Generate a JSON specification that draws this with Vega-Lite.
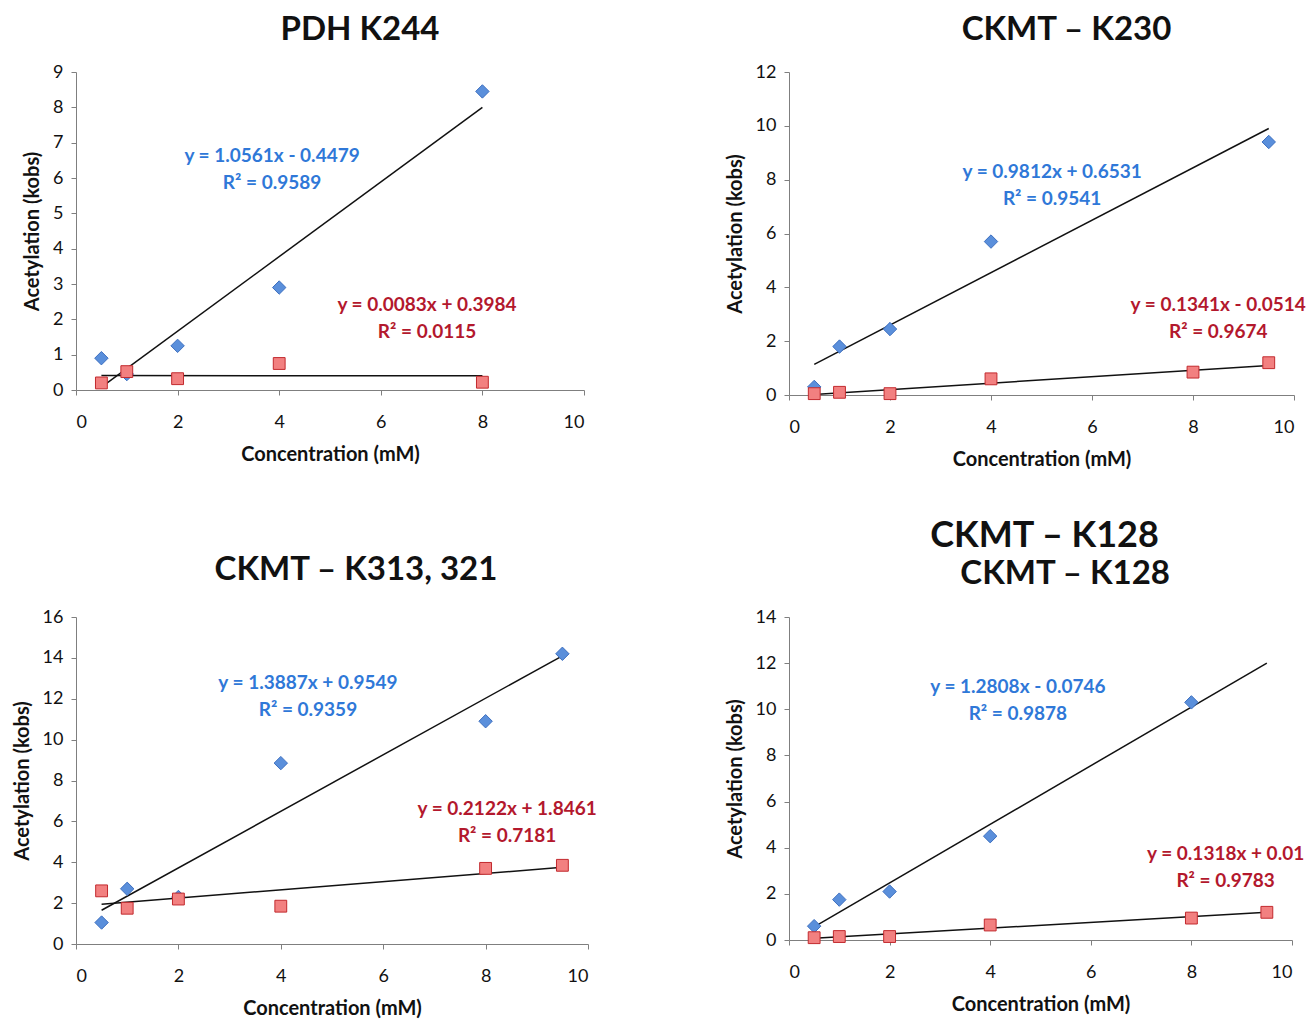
{
  "$schema": "https://vega.github.io/schema/vega-lite/v6.json",
  "padding": {"left": 12, "top": 14, "right": 0, "bottom": 5},
  "background": "white",
  "columns": 2,
  "spacing": {"row": 49, "column": 128},
  "concat": [
    {
      "title": {"text": "PDH K244", "dx": 30},
      "width": 508, "height": 318,
      "data": {"values": [
        {"kind": "pt", "series": "A", "x": 0.5, "y": 0.9},
        {"kind": "pt", "series": "A", "x": 1, "y": 0.45},
        {"kind": "pt", "series": "A", "x": 2, "y": 1.25},
        {"kind": "pt", "series": "A", "x": 4, "y": 2.9},
        {"kind": "pt", "series": "A", "x": 8, "y": 8.45},
        {"kind": "pt", "series": "B", "x": 0.5, "y": 0.2},
        {"kind": "pt", "series": "B", "x": 1, "y": 0.52},
        {"kind": "pt", "series": "B", "x": 2, "y": 0.32},
        {"kind": "pt", "series": "B", "x": 4, "y": 0.75},
        {"kind": "pt", "series": "B", "x": 8, "y": 0.22},
        {"kind": "fit", "series": "A", "x": 0.5, "y": 0.08},
        {"kind": "fit", "series": "A", "x": 8, "y": 8.0},
        {"kind": "fit", "series": "B", "x": 0.5, "y": 0.41},
        {"kind": "fit", "series": "B", "x": 8, "y": 0.4},
        {"kind": "eq", "series": "A", "x": 3.86, "y": 6.63, "label": "y = 1.0561x - 0.4479"},
        {"kind": "eq", "series": "A", "x": 3.86, "y": 5.86, "label": "R² = 0.9589"},
        {"kind": "eq", "series": "B", "x": 6.91, "y": 2.41, "label": "y = 0.0083x + 0.3984"},
        {"kind": "eq", "series": "B", "x": 6.91, "y": 1.64, "label": "R² = 0.0115"}
      ]},
      "encoding": {
        "x": {"field": "x", "type": "quantitative", "scale": {"domain": [0, 10]}, "axis": {"values": [0, 2, 4, 6, 8, 10], "title": "Concentration (mM)"}},
        "y": {"field": "y", "type": "quantitative", "scale": {"domain": [0, 9]}, "axis": {"values": [0, 1, 2, 3, 4, 5, 6, 7, 8, 9], "title": "Acetylation (kobs)"}}
      },
      "layer": [
        {"transform": [{"filter": "datum.kind === 'fit'"}], "mark": {"type": "line", "color": "#111111", "strokeWidth": 1.5}, "encoding": {"detail": {"field": "series"}}},
        {"transform": [{"filter": "datum.kind === 'pt'"}], "mark": {"type": "point", "filled": true, "opacity": 1, "strokeWidth": 1},
         "encoding": {
           "shape": {"field": "series", "scale": {"domain": ["A", "B"], "range": ["diamond", "square"]}, "legend": null},
           "size": {"field": "series", "type": "nominal", "scale": {"domain": ["A", "B"], "range": [180, 140]}, "legend": null},
           "fill": {"field": "series", "scale": {"domain": ["A", "B"], "range": ["#5A8FDB", "#F28080"]}, "legend": null},
           "stroke": {"field": "series", "scale": {"domain": ["A", "B"], "range": ["#3E70C0", "#C22A2E"]}, "legend": null}
         }},
        {"transform": [{"filter": "datum.kind === 'eq'"}], "mark": {"type": "text", "fontSize": 19, "fontWeight": "bold"},
         "encoding": {
           "text": {"field": "label"},
           "color": {"field": "series", "scale": {"domain": ["A", "B"], "range": ["#2F78D8", "#B3182D"]}, "legend": null}
         }}
      ]
    },
    {
      "title": {"text": "CKMT – K230", "dx": 25},
      "width": 505, "height": 323,
      "data": {"values": [
        {"kind": "pt", "series": "A", "x": 0.5, "y": 0.3},
        {"kind": "pt", "series": "A", "x": 1, "y": 1.8},
        {"kind": "pt", "series": "A", "x": 2, "y": 2.45},
        {"kind": "pt", "series": "A", "x": 4, "y": 5.7},
        {"kind": "pt", "series": "A", "x": 9.5, "y": 9.4},
        {"kind": "pt", "series": "B", "x": 0.5, "y": 0.05},
        {"kind": "pt", "series": "B", "x": 1, "y": 0.1},
        {"kind": "pt", "series": "B", "x": 2, "y": 0.05},
        {"kind": "pt", "series": "B", "x": 4, "y": 0.6},
        {"kind": "pt", "series": "B", "x": 8, "y": 0.85},
        {"kind": "pt", "series": "B", "x": 9.5, "y": 1.2},
        {"kind": "fit", "series": "A", "x": 0.5, "y": 1.14},
        {"kind": "fit", "series": "A", "x": 9.5, "y": 9.9},
        {"kind": "fit", "series": "B", "x": 0.5, "y": 0.02},
        {"kind": "fit", "series": "B", "x": 9.5, "y": 1.1},
        {"kind": "eq", "series": "A", "x": 5.21, "y": 8.29, "label": "y = 0.9812x + 0.6531"},
        {"kind": "eq", "series": "A", "x": 5.21, "y": 7.29, "label": "R² = 0.9541"},
        {"kind": "eq", "series": "B", "x": 8.5, "y": 3.35, "label": "y = 0.1341x - 0.0514"},
        {"kind": "eq", "series": "B", "x": 8.5, "y": 2.34, "label": "R² = 0.9674"}
      ]},
      "encoding": {
        "x": {"field": "x", "type": "quantitative", "scale": {"domain": [0, 10]}, "axis": {"values": [0, 2, 4, 6, 8, 10], "title": "Concentration (mM)"}},
        "y": {"field": "y", "type": "quantitative", "scale": {"domain": [0, 12]}, "axis": {"values": [0, 2, 4, 6, 8, 10, 12], "title": "Acetylation (kobs)"}}
      },
      "layer": [
        {"transform": [{"filter": "datum.kind === 'fit'"}], "mark": {"type": "line", "color": "#111111", "strokeWidth": 1.5}, "encoding": {"detail": {"field": "series"}}},
        {"transform": [{"filter": "datum.kind === 'pt'"}], "mark": {"type": "point", "filled": true, "opacity": 1, "strokeWidth": 1},
         "encoding": {
           "shape": {"field": "series", "scale": {"domain": ["A", "B"], "range": ["diamond", "square"]}, "legend": null},
           "size": {"field": "series", "type": "nominal", "scale": {"domain": ["A", "B"], "range": [180, 140]}, "legend": null},
           "fill": {"field": "series", "scale": {"domain": ["A", "B"], "range": ["#5A8FDB", "#F28080"]}, "legend": null},
           "stroke": {"field": "series", "scale": {"domain": ["A", "B"], "range": ["#3E70C0", "#C22A2E"]}, "legend": null}
         }},
        {"transform": [{"filter": "datum.kind === 'eq'"}], "mark": {"type": "text", "fontSize": 19, "fontWeight": "bold"},
         "encoding": {
           "text": {"field": "label"},
           "color": {"field": "series", "scale": {"domain": ["A", "B"], "range": ["#2F78D8", "#B3182D"]}, "legend": null}
         }}
      ]
    },
    {
      "title": {"text": "CKMT – K313, 321", "dx": 24, "offset": 21},
      "width": 512, "height": 327,
      "data": {"values": [
        {"kind": "pt", "series": "A", "x": 0.5, "y": 1.05},
        {"kind": "pt", "series": "A", "x": 1, "y": 2.7},
        {"kind": "pt", "series": "A", "x": 2, "y": 2.3},
        {"kind": "pt", "series": "A", "x": 4, "y": 8.85},
        {"kind": "pt", "series": "A", "x": 8, "y": 10.9},
        {"kind": "pt", "series": "A", "x": 9.5, "y": 14.2},
        {"kind": "pt", "series": "B", "x": 0.5, "y": 2.6},
        {"kind": "pt", "series": "B", "x": 1, "y": 1.75},
        {"kind": "pt", "series": "B", "x": 2, "y": 2.2},
        {"kind": "pt", "series": "B", "x": 4, "y": 1.85},
        {"kind": "pt", "series": "B", "x": 8, "y": 3.7},
        {"kind": "pt", "series": "B", "x": 9.5, "y": 3.85},
        {"kind": "fit", "series": "A", "x": 0.5, "y": 1.65},
        {"kind": "fit", "series": "A", "x": 9.5, "y": 14.1},
        {"kind": "fit", "series": "B", "x": 0.5, "y": 1.95},
        {"kind": "fit", "series": "B", "x": 9.5, "y": 3.75},
        {"kind": "eq", "series": "A", "x": 4.53, "y": 12.77, "label": "y = 1.3887x + 0.9549"},
        {"kind": "eq", "series": "A", "x": 4.53, "y": 11.45, "label": "R² = 0.9359"},
        {"kind": "eq", "series": "B", "x": 8.42, "y": 6.6, "label": "y = 0.2122x + 1.8461"},
        {"kind": "eq", "series": "B", "x": 8.42, "y": 5.28, "label": "R² = 0.7181"}
      ]},
      "encoding": {
        "x": {"field": "x", "type": "quantitative", "scale": {"domain": [0, 10]}, "axis": {"values": [0, 2, 4, 6, 8, 10], "title": "Concentration (mM)"}},
        "y": {"field": "y", "type": "quantitative", "scale": {"domain": [0, 16]}, "axis": {"values": [0, 2, 4, 6, 8, 10, 12, 14, 16], "title": "Acetylation (kobs)"}}
      },
      "layer": [
        {"transform": [{"filter": "datum.kind === 'fit'"}], "mark": {"type": "line", "color": "#111111", "strokeWidth": 1.5}, "encoding": {"detail": {"field": "series"}}},
        {"transform": [{"filter": "datum.kind === 'pt'"}], "mark": {"type": "point", "filled": true, "opacity": 1, "strokeWidth": 1},
         "encoding": {
           "shape": {"field": "series", "scale": {"domain": ["A", "B"], "range": ["diamond", "square"]}, "legend": null},
           "size": {"field": "series", "type": "nominal", "scale": {"domain": ["A", "B"], "range": [180, 140]}, "legend": null},
           "fill": {"field": "series", "scale": {"domain": ["A", "B"], "range": ["#5A8FDB", "#F28080"]}, "legend": null},
           "stroke": {"field": "series", "scale": {"domain": ["A", "B"], "range": ["#3E70C0", "#C22A2E"]}, "legend": null}
         }},
        {"transform": [{"filter": "datum.kind === 'eq'"}], "mark": {"type": "text", "fontSize": 19, "fontWeight": "bold"},
         "encoding": {
           "text": {"field": "label"},
           "color": {"field": "series", "scale": {"domain": ["A", "B"], "range": ["#2F78D8", "#B3182D"]}, "legend": null}
         }}
      ]
    },
    {
      "title": {"text": "CKMT – K128", "subtitle": "\u200b\u2003\u2002CKMT – K128", "dx": 4, "fontSize": 36, "subtitleFontSize": 33, "subtitleFontWeight": "bold", "subtitleColor": "#111111", "subtitlePadding": 3},
      "width": 503, "height": 323,
      "data": {"values": [
        {"kind": "pt", "series": "A", "x": 0.5, "y": 0.6},
        {"kind": "pt", "series": "A", "x": 1, "y": 1.75},
        {"kind": "pt", "series": "A", "x": 2, "y": 2.1},
        {"kind": "pt", "series": "A", "x": 4, "y": 4.5},
        {"kind": "pt", "series": "A", "x": 8, "y": 10.3},
        {"kind": "pt", "series": "B", "x": 0.5, "y": 0.1},
        {"kind": "pt", "series": "B", "x": 1, "y": 0.15},
        {"kind": "pt", "series": "B", "x": 2, "y": 0.15},
        {"kind": "pt", "series": "B", "x": 4, "y": 0.65},
        {"kind": "pt", "series": "B", "x": 8, "y": 0.95},
        {"kind": "pt", "series": "B", "x": 9.5, "y": 1.2},
        {"kind": "fit", "series": "A", "x": 0.5, "y": 0.57},
        {"kind": "fit", "series": "A", "x": 9.5, "y": 12.0},
        {"kind": "fit", "series": "B", "x": 0.5, "y": 0.08},
        {"kind": "fit", "series": "B", "x": 9.5, "y": 1.2},
        {"kind": "eq", "series": "A", "x": 4.55, "y": 10.97, "label": "y = 1.2808x - 0.0746"},
        {"kind": "eq", "series": "A", "x": 4.55, "y": 9.8, "label": "R² = 0.9878"},
        {"kind": "eq", "series": "B", "x": 8.68, "y": 3.73, "label": "y = 0.1318x + 0.01"},
        {"kind": "eq", "series": "B", "x": 8.68, "y": 2.56, "label": "R² = 0.9783"}
      ]},
      "encoding": {
        "x": {"field": "x", "type": "quantitative", "scale": {"domain": [0, 10]}, "axis": {"values": [0, 2, 4, 6, 8, 10], "title": "Concentration (mM)"}},
        "y": {"field": "y", "type": "quantitative", "scale": {"domain": [0, 14]}, "axis": {"values": [0, 2, 4, 6, 8, 10, 12, 14], "title": "Acetylation (kobs)"}}
      },
      "layer": [
        {"transform": [{"filter": "datum.kind === 'fit'"}], "mark": {"type": "line", "color": "#111111", "strokeWidth": 1.5}, "encoding": {"detail": {"field": "series"}}},
        {"transform": [{"filter": "datum.kind === 'pt'"}], "mark": {"type": "point", "filled": true, "opacity": 1, "strokeWidth": 1},
         "encoding": {
           "shape": {"field": "series", "scale": {"domain": ["A", "B"], "range": ["diamond", "square"]}, "legend": null},
           "size": {"field": "series", "type": "nominal", "scale": {"domain": ["A", "B"], "range": [180, 140]}, "legend": null},
           "fill": {"field": "series", "scale": {"domain": ["A", "B"], "range": ["#5A8FDB", "#F28080"]}, "legend": null},
           "stroke": {"field": "series", "scale": {"domain": ["A", "B"], "range": ["#3E70C0", "#C22A2E"]}, "legend": null}
         }},
        {"transform": [{"filter": "datum.kind === 'eq'"}], "mark": {"type": "text", "fontSize": 19, "fontWeight": "bold"},
         "encoding": {
           "text": {"field": "label"},
           "color": {"field": "series", "scale": {"domain": ["A", "B"], "range": ["#2F78D8", "#B3182D"]}, "legend": null}
         }}
      ]
    }
  ],
  "config": {
    "font": "Lato, sans-serif",
    "view": {"stroke": null},
    "axis": {"grid": false, "domainColor": "#7f7f7f", "tickColor": "#7f7f7f", "labelFontSize": 18, "labelColor": "#111111", "titleFontSize": 20, "titleColor": "#111111", "titleFontWeight": "bold", "tickSize": 5},
    "axisX": {"labelPadding": 18, "titlePadding": 13},
    "axisY": {"labelPadding": 8, "titlePadding": 10},
    "title": {"fontSize": 33, "fontWeight": "bold", "color": "#111111", "anchor": "middle", "offset": 16}
  }
}
